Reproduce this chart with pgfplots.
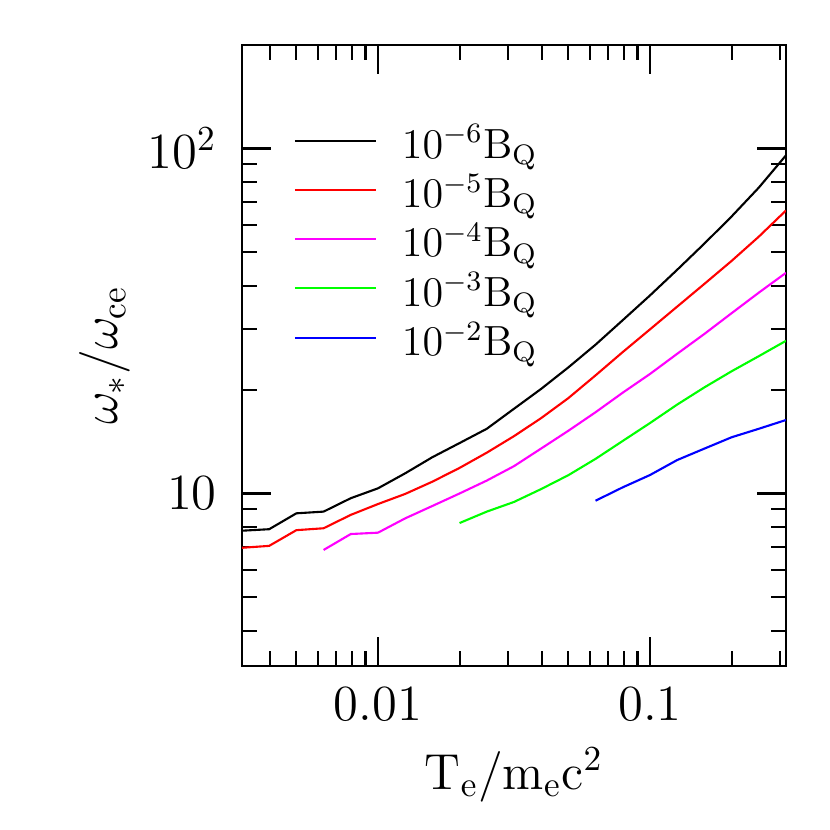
\documentclass[border=0pt]{standalone}
\usepackage{pgfplots}
\pgfplotsset{compat=1.18}
\definecolor{cmag}{rgb}{1,0,1}
\definecolor{cgreen}{rgb}{0,1,0}
\definecolor{cblue}{rgb}{0,0,1}
\definecolor{cred}{rgb}{1,0,0}
\begin{document}
\begin{tikzpicture}
\begin{axis}[
  xmode=log, ymode=log,
  scale only axis, width=5.44cm, height=6.21cm,
  xmin=0.0031623, xmax=0.31623, ymin=3.1623, ymax=199.5,
  xtick={0.01,0.1}, xticklabels={$0.01$,$0.1$},
  ytick={10,100}, yticklabels={$10$,$10^2$},
  minor xtick={0.004,0.005,0.006,0.007,0.008,0.009,0.02,0.03,0.04,0.05,0.06,0.07,0.08,0.09,0.2,0.3},
  minor ytick={4,5,6,7,8,9,20,30,40,50,60,70,80,90},
  tick align=inside, tick pos=both, ticklabel pos=left,
  major tick length=0.29cm, minor tick length=0.15cm,
  every tick/.style={black, line width=0.6pt},
  axis line style={line width=0.6pt},
  tick label style={font=\fontsize{13.7}{16}\selectfont},
  xticklabel style={yshift=-0.09cm},
  yticklabel style={xshift=-0.13cm},
  label style={font=\fontsize{14}{17}\selectfont},
  xlabel={$\mathrm{T_e/m_ec^2}$},
  ylabel={$\omega_*/\omega_{\mathrm{ce}}$},
  x label style={at={(axis description cs:0.5,-0.1755)}, anchor=center},
  y label style={at={(axis description cs:-0.2518,0.5)}, anchor=center},
  legend style={at={(axis description cs:0.094,0.859)}, anchor=north west, draw=none, fill=none,
    font=\fontsize{11.6}{14}\selectfont, inner sep=0pt, row sep=1.3pt, column sep=0.25cm,
    nodes={inner sep=0pt, text height=0.25cm, text depth=0.197cm}},
  legend cell align=left,
  legend image code/.code={\draw[#1] (0cm,0.15cm) -- (0.81cm,0.15cm);},
  every axis plot/.append style={line width=0.6pt},
]
\addplot[black] coordinates {
(0.0031623,7.80) (0.0039811,7.88) (0.0050119,8.76) (0.0063096,8.86) (0.0079433,9.69)
(0.01,10.35) (0.012589,11.44) (0.015849,12.74) (0.019953,14.0) (0.025119,15.4)
(0.031623,17.6) (0.039811,20.1) (0.050119,23.2) (0.063096,27.0) (0.079433,31.8)
(0.1,37.5) (0.12589,44.5) (0.15849,53.0) (0.19953,63.5) (0.25119,77.0) (0.31623,95.5)};
\addlegendentry{$10^{-6}\mathrm{B_Q}$}
\addplot[cred] coordinates {
(0.0031623,6.96) (0.0039811,7.05) (0.0050119,7.83) (0.0063096,7.93) (0.0079433,8.67)
(0.01,9.32) (0.012589,9.97) (0.015849,10.82) (0.019953,11.86) (0.025119,13.13)
(0.031623,14.66) (0.039811,16.54) (0.050119,18.9) (0.063096,22.0) (0.079433,25.7)
(0.1,29.9) (0.12589,34.8) (0.15849,40.5) (0.19953,47.2) (0.25119,55.5) (0.31623,66.1)};
\addlegendentry{$10^{-5}\mathrm{B_Q}$}
\addplot[cmag] coordinates {
(0.0063096,6.86) (0.0079433,7.63)
(0.01,7.70) (0.012589,8.47) (0.015849,9.20) (0.019953,10.0) (0.025119,10.9)
(0.031623,12.0) (0.039811,13.5) (0.050119,15.2) (0.063096,17.2) (0.079433,19.6)
(0.1,22.2) (0.12589,25.4) (0.15849,29.0) (0.19953,33.3) (0.25119,38.2) (0.31623,43.6)};
\addlegendentry{$10^{-4}\mathrm{B_Q}$}
\addplot[cgreen] coordinates {
(0.019953,8.21) (0.025119,8.86)
(0.031623,9.45) (0.039811,10.3) (0.050119,11.3) (0.063096,12.6) (0.079433,14.2)
(0.1,16.0) (0.12589,18.1) (0.15849,20.3) (0.19953,22.6) (0.25119,25.0) (0.31623,27.7)};
\addlegendentry{$10^{-3}\mathrm{B_Q}$}
\addplot[cblue] coordinates {
(0.063096,9.53) (0.079433,10.42)
(0.1,11.31) (0.12589,12.5) (0.15849,13.49) (0.19953,14.55) (0.25119,15.4) (0.31623,16.33)};
\addlegendentry{$10^{-2}\mathrm{B_Q}$}
\end{axis}
\path[use as bounding box] (-2.42,-1.64) rectangle (5.88,6.66);
\end{tikzpicture}
\end{document}
